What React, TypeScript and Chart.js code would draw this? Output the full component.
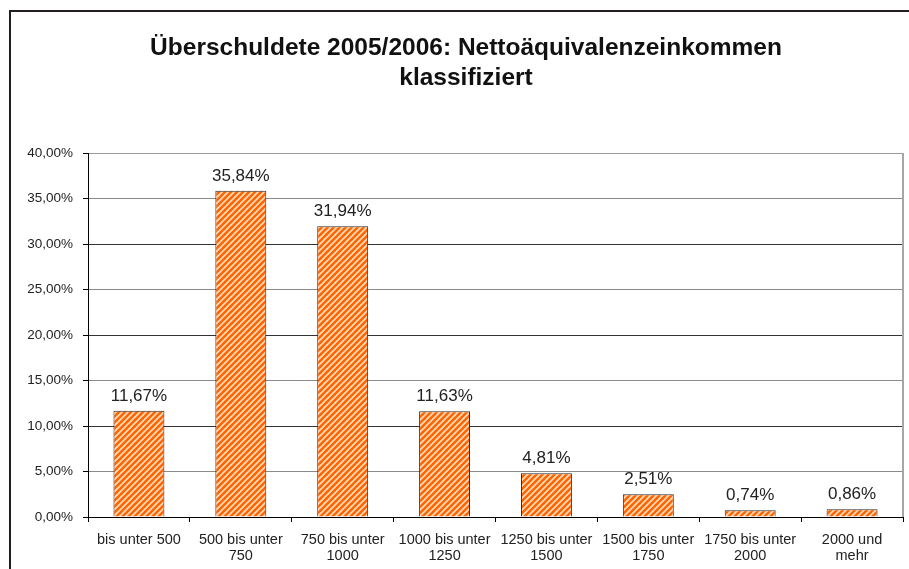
import React, { useEffect, useRef } from "react";
import { Chart, registerables } from "chart.js";

Chart.register(...registerables);

const titleLines = ["Überschuldete 2005/2006: Nettoäquivalenzeinkommen", "klassifiziert"];
const categories: string[][] = [
  ["bis unter 500"],
  ["500 bis unter", "750"],
  ["750 bis unter", "1000"],
  ["1000 bis unter", "1250"],
  ["1250 bis unter", "1500"],
  ["1500 bis unter", "1750"],
  ["1750 bis unter", "2000"],
  ["2000 und", "mehr"],
];
const values = [11.67, 35.84, 31.94, 11.63, 4.81, 2.51, 0.74, 0.86];
const yMin = 0;
const yMax = 40;
const yStep = 5;

const FONT = "'Liberation Sans', Arial, sans-serif";

const fmt = (v: number) => v.toFixed(2).replace(".", ",") + "%";

function makePattern(): CanvasPattern | string {
  const c = document.createElement("canvas");
  c.width = 6;
  c.height = 6;
  const g = c.getContext("2d");
  if (!g) return "#FF6600";
  g.fillStyle = "#FF6600";
  g.fillRect(0, 0, 6, 6);
  g.strokeStyle = "rgba(255,235,215,0.9)";
  g.lineWidth = 1.6;
  g.beginPath();
  g.moveTo(-1, 7);
  g.lineTo(7, -1);
  g.moveTo(-7, 7);
  g.lineTo(1, -1);
  g.moveTo(5, 7);
  g.lineTo(13, -1);
  g.stroke();
  return g.createPattern(c, "repeat") || "#FF6600";
}

const framePlugin = {
  id: "frame",
  beforeDraw(chart: any) {
    const ctx = chart.ctx;
    ctx.save();
    ctx.fillStyle = "#ffffff";
    ctx.fillRect(0, 0, chart.width, chart.height);
    ctx.fillStyle = "#231f20";
    ctx.fillRect(9, 10, 2, chart.height);
    ctx.fillRect(9, 10, chart.width, 2);
    ctx.restore();
  },
  afterDatasetsDraw(chart: any) {
    const ctx = chart.ctx;
    const { chartArea } = chart;
    ctx.save();
    ctx.fillStyle = "#a6a6a6";
    ctx.fillRect(chartArea.right - 1, chartArea.top, 2, chartArea.bottom - chartArea.top);
    ctx.font = `17px ${FONT}`;
    ctx.fillStyle = "#222222";
    ctx.textAlign = "center";
    ctx.textBaseline = "alphabetic";
    const meta = chart.getDatasetMeta(0);
    meta.data.forEach((bar: any, i: number) => {
      ctx.fillText(fmt(values[i]), bar.x, bar.y - 10);
    });
    ctx.restore();
  },
};

export default function App() {
  const ref = useRef<HTMLCanvasElement | null>(null);
  useEffect(() => {
    if (!ref.current) return;
    const chart = new Chart(ref.current, {
      type: "bar",
      data: {
        labels: categories,
        datasets: [
          {
            data: values,
            backgroundColor: makePattern() as any,
            borderColor: "#2a2a2a",
            borderWidth: 1,
            categoryPercentage: 1,
            barPercentage: 0.5,
          },
        ],
      },
      options: {
        responsive: false,
        animation: false,
        layout: { padding: { left: 23, right: 0, top: 0, bottom: 0 } },
        plugins: {
          legend: { display: false },
          tooltip: { enabled: false },
          title: {
            display: true,
            text: titleLines,
            color: "#111111",
            font: { family: FONT, size: 24.5, weight: "bold", lineHeight: 30 / 24.5 },
            padding: { top: 33, bottom: 60 },
          },
        },
        scales: {
          x: {
            grid: {
              offset: true,
              drawOnChartArea: false,
              drawTicks: true,
              tickLength: 5,
              color: "#000000",
            },
            border: { display: true, color: "#000000", width: 1 },
            ticks: {
              color: "#222222",
              font: { family: FONT, size: 14.5, lineHeight: 16 / 14.5 },
              padding: 10,
              maxRotation: 0,
              autoSkip: false,
            },
            afterFit: (s: any) => {
              s.height = 52;
            },
          },
          y: {
            min: yMin,
            max: yMax,
            grid: {
              color: (c: any) => {
                const v = c.tick ? c.tick.value : 0;
                if (v === 40) return "#9a9a9a";
                return v % 10 === 0 ? "#333333" : "#8a8a8a";
              },
              tickColor: "#000000",
              tickLength: 5,
            },
            border: { display: true, color: "#000000", width: 1 },
            ticks: {
              stepSize: yStep,
              color: "#222222",
              font: { family: FONT, size: 13.5 },
              padding: 10,
              callback: (v: any) => fmt(Number(v)),
            },
            afterFit: (s: any) => {
              s.width = 65;
            },
          },
          yRight: {
            position: "right",
            display: true,
            grid: { display: false, drawTicks: false },
            border: { display: false },
            ticks: { display: false },
            afterFit: (s: any) => {
              s.width = 6;
            },
          },
        },
      },
      plugins: [framePlugin],
    } as any);
    return () => chart.destroy();
  }, []);
  return (
    <div style={{ position: "absolute", left: 0, top: 0, width: 909, height: 569, overflow: "hidden" }}>
      <canvas ref={ref} width={909} height={569} style={{ width: 909, height: 569, display: "block" }} />
    </div>
  );
}
